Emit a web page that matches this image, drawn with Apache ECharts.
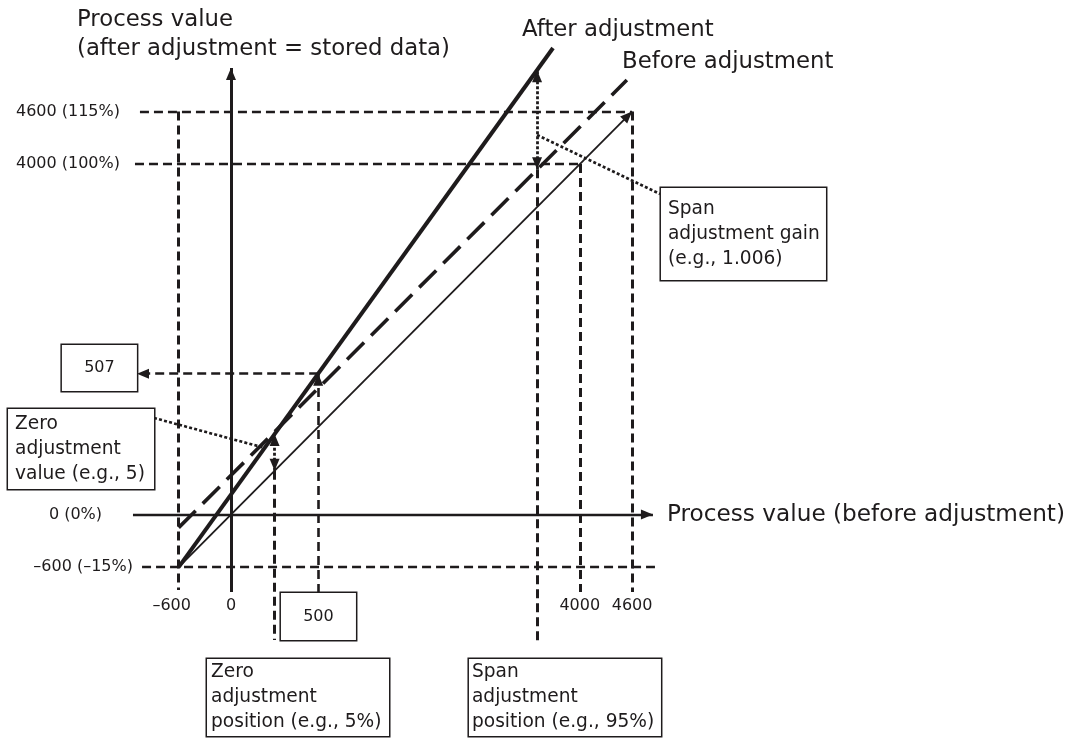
<!DOCTYPE html>
<html>
<head>
<meta charset="utf-8">
<style>
  html, body { margin: 0; padding: 0; background: #ffffff; }
  #chart { width: 1077px; height: 740px; }
</style>
<script src="https://cdn.jsdelivr.net/npm/echarts@6/dist/echarts.min.js"></script>
</head>
<body>
<div id="chart"></div>
<script>
// ---- Data (process value units) ----

// Axis ticks and their printed labels
const xTickValues = [-600, 0, 4000, 4600];
const xTickLabels = ['–600', '0', '4000', '4600'];
const yTickValues = [4600, 4000, 0, -600];
const yTickLabels = ['4600 (115%)', '4000 (100%)', '0 (0%)', '–600 (–15%)'];

// Characteristic lines as [input, output] end points
const identityLine = [[-600, -600], [4600, 4600]];
const afterLine = [[-600, -600], [3693, 5325]];
const beforeLine = [[-600, -150], [4540, 4960]];

// Zero adjustment: position on the input axis and where it meets the lines
const zeroPosition = 500;
const zeroOnIdentity = 500;
const zeroOnAfter = 918;

// Span adjustment: position on the input axis and where it meets the lines
const spanPosition = 3510;
const spanOnBefore = 3940;
const spanOnAfter = 5070;

// Read-out example: input position and its level on the adjusted line
const readoutPosition = 1000;
const readoutLevel = 1608;

// Texts
const axisTitleY = ['Process value', '(after adjustment = stored data)'];
const axisTitleX = 'Process value (before adjustment)';
const lineNames = ['After adjustment', 'Before adjustment'];
const readoutTexts = ['507', '500'];
const calloutTexts = [
  'Zero\nadjustment\nvalue (e.g., 5)',
  'Span\nadjustment gain\n(e.g., 1.006)',
  'Zero\nadjustment\nposition (e.g., 5%)',
  'Span\nadjustment\nposition (e.g., 95%)'
];

// ---- Layout (axis units of the full-page grid) ----
const view = { xMin: -2649, xMax: 9702, yMin: -2574, yMax: 5873 };
const axisX = [[-1124, 0], [4839, 0]];
const axisY = [[0, -885], [0, 5097]];
const guideLeft = [-1044, -1101, null, -1020];   // start of each horizontal guide
const guideRight = [4600, 4000, null, 4862];     // end of each horizontal guide
const guideBottom = -885;
const leaderZero = [[-883, 1102], [370, 765]];
const leaderSpan = [[spanPosition, 4332], [4920, 3659]];

const ink = '#1e1b1c';
const FONT = 'DejaVu Sans';
// filled arrow head whose tip sits on the symbol centre
const arrowHead = 'path://M0,0L-5,12L5,12Z M0,-12L0,-12 M-12,0L-12,0 M12,0L12,0';

function linesSeries(name, segments, style, ends, z) {
  return {
    type: 'lines',
    name: name,
    coordinateSystem: 'cartesian2d',
    polyline: false,
    silent: true,
    z: z || 2,
    data: segments.map(function (s) { return { coords: s }; }),
    lineStyle: Object.assign({ color: ink, opacity: 1, curveness: 0 }, style),
    symbol: ends || ['none', 'none'],
    symbolSize: 24
  };
}

function textItem(pos, text, label) {
  return {
    value: pos,
    label: Object.assign({
      show: true,
      position: 'inside',
      formatter: text,
      color: ink,
      opacity: 1,
      fontFamily: FONT
    }, label)
  };
}

// horizontal and vertical guides at the tick levels
const guidesH = [];
yTickValues.forEach(function (v, i) {
  if (guideLeft[i] !== null) guidesH.push([[guideLeft[i], v], [guideRight[i], v]]);
});
const guidesV = [
  [[xTickValues[0], yTickValues[0]], [xTickValues[0], -862]],
  [[xTickValues[2], yTickValues[1]], [xTickValues[2], guideBottom]],
  [[xTickValues[3], yTickValues[0]], [xTickValues[3], guideBottom]],
  [[zeroPosition, zeroOnIdentity], [zeroPosition, -1433]],
  [[spanPosition, spanOnBefore], [spanPosition, -1467]]
];
const readoutArrows = [
  [[readoutPosition, -896], [readoutPosition, readoutLevel]],
  [[readoutPosition, readoutLevel], [-1078, readoutLevel]]
];
const adjustArrows = [
  [[zeroPosition, zeroOnIdentity], [zeroPosition, zeroOnAfter]],
  [[spanPosition, spanOnBefore], [spanPosition, spanOnAfter]]
];

const titleFont = { fontSize: 22.8, align: 'left', verticalAlign: 'middle' };
const tickFontY = { fontSize: 16, align: 'right', verticalAlign: 'middle' };
const tickFontX = { fontSize: 16, align: 'center', verticalAlign: 'middle' };
const boxBase = {
  fontSize: 18.6, lineHeight: 25, align: 'left', verticalAlign: 'middle',
  backgroundColor: '#ffffff', borderColor: ink, borderWidth: 1.5
};
const numBox = {
  fontSize: 16, lineHeight: 20, align: 'center', verticalAlign: 'middle', width: 75,
  backgroundColor: '#ffffff', borderColor: ink, borderWidth: 1.5
};

const yTickAnchor = [-1273, -1273, -1479, -1124];
const xTickAnchor = [-680, 0, 4000, 4600];
const xTickRow = -1045;

const texts = [];
texts.push(textItem([-1766, 5645], axisTitleY[0], titleFont));
texts.push(textItem([-1766, 5318], axisTitleY[1], titleFont));
texts.push(textItem([3337, 5531], lineNames[0], titleFont));
texts.push(textItem([4484, 5160], lineNames[1], titleFont));
texts.push(textItem([5000, 0], axisTitleX, Object.assign({}, titleFont, { fontSize: 23.2 })));
yTickLabels.forEach(function (t, i) {
  texts.push(textItem([yTickAnchor[i], yTickValues[i]], t, tickFontY));
});
xTickLabels.forEach(function (t, i) {
  texts.push(textItem([xTickAnchor[i], xTickRow], t, tickFontX));
});
texts.push(textItem([-1509, readoutLevel + 64], readoutTexts[0],
  Object.assign({}, numBox, { padding: [13, 0, 13, 0] })));
texts.push(textItem([readoutPosition + 3, -1164], readoutTexts[1],
  Object.assign({}, numBox, { padding: [13.5, 0, 13.5, 0] })));
texts.push(textItem([-2557, 748], calloutTexts[0],
  Object.assign({}, boxBase, { width: 139, padding: [2, 0, 3, 7] })));
texts.push(textItem([4931, 3202], calloutTexts[1],
  Object.assign({}, boxBase, { width: 158, padding: [5, 0, 12, 7] })));
texts.push(textItem([-275, -2089], calloutTexts[2],
  Object.assign({}, boxBase, { width: 178, padding: [1, 0, 1, 4] })));
texts.push(textItem([2729, -2089], calloutTexts[3],
  Object.assign({}, boxBase, { width: 189, padding: [1, 0, 1, 3] })));

const chart = echarts.init(document.getElementById('chart'));
chart.setOption({
  animation: false,
  backgroundColor: '#ffffff',
  grid: { left: 0, right: 0, top: 0, bottom: 0, containLabel: false },
  xAxis: { type: 'value', min: view.xMin, max: view.xMax, show: false },
  yAxis: { type: 'value', min: view.yMin, max: view.yMax, show: false },
  series: [
    linesSeries('guides-h', guidesH, { width: 2.4, type: [9, 5] }, null, 1),
    linesSeries('guides-v', guidesV, { width: 3, type: [9, 5] }, null, 1),
    linesSeries('readout', readoutArrows, { width: 2.6, type: [9, 5] }, ['none', arrowHead], 3),
    linesSeries('x-axis', [axisX], { width: 2.3 }, ['none', arrowHead], 4),
    linesSeries('y-axis', [axisY], { width: 3 }, ['none', arrowHead], 4),
    linesSeries('identity', [identityLine], { width: 1.8 }, ['none', arrowHead], 5),
    linesSeries('before', [beforeLine], { width: 3.6, type: [24, 10] }, null, 5),
    linesSeries('after', [afterLine], { width: 4 }, null, 6),
    linesSeries('adjust', adjustArrows, { width: 2.8, type: [3, 2] }, [arrowHead, arrowHead], 7),
    linesSeries('leaders', [leaderZero, leaderSpan], { width: 2.6, type: [3, 2.2] }, null, 7),
    {
      type: 'scatter',
      name: 'texts',
      silent: true,
      symbolSize: 0.1,
      itemStyle: { color: 'rgba(0,0,0,0)', opacity: 1 },
      z: 10,
      data: texts
    }
  ]
});
</script>
</body>
</html>
